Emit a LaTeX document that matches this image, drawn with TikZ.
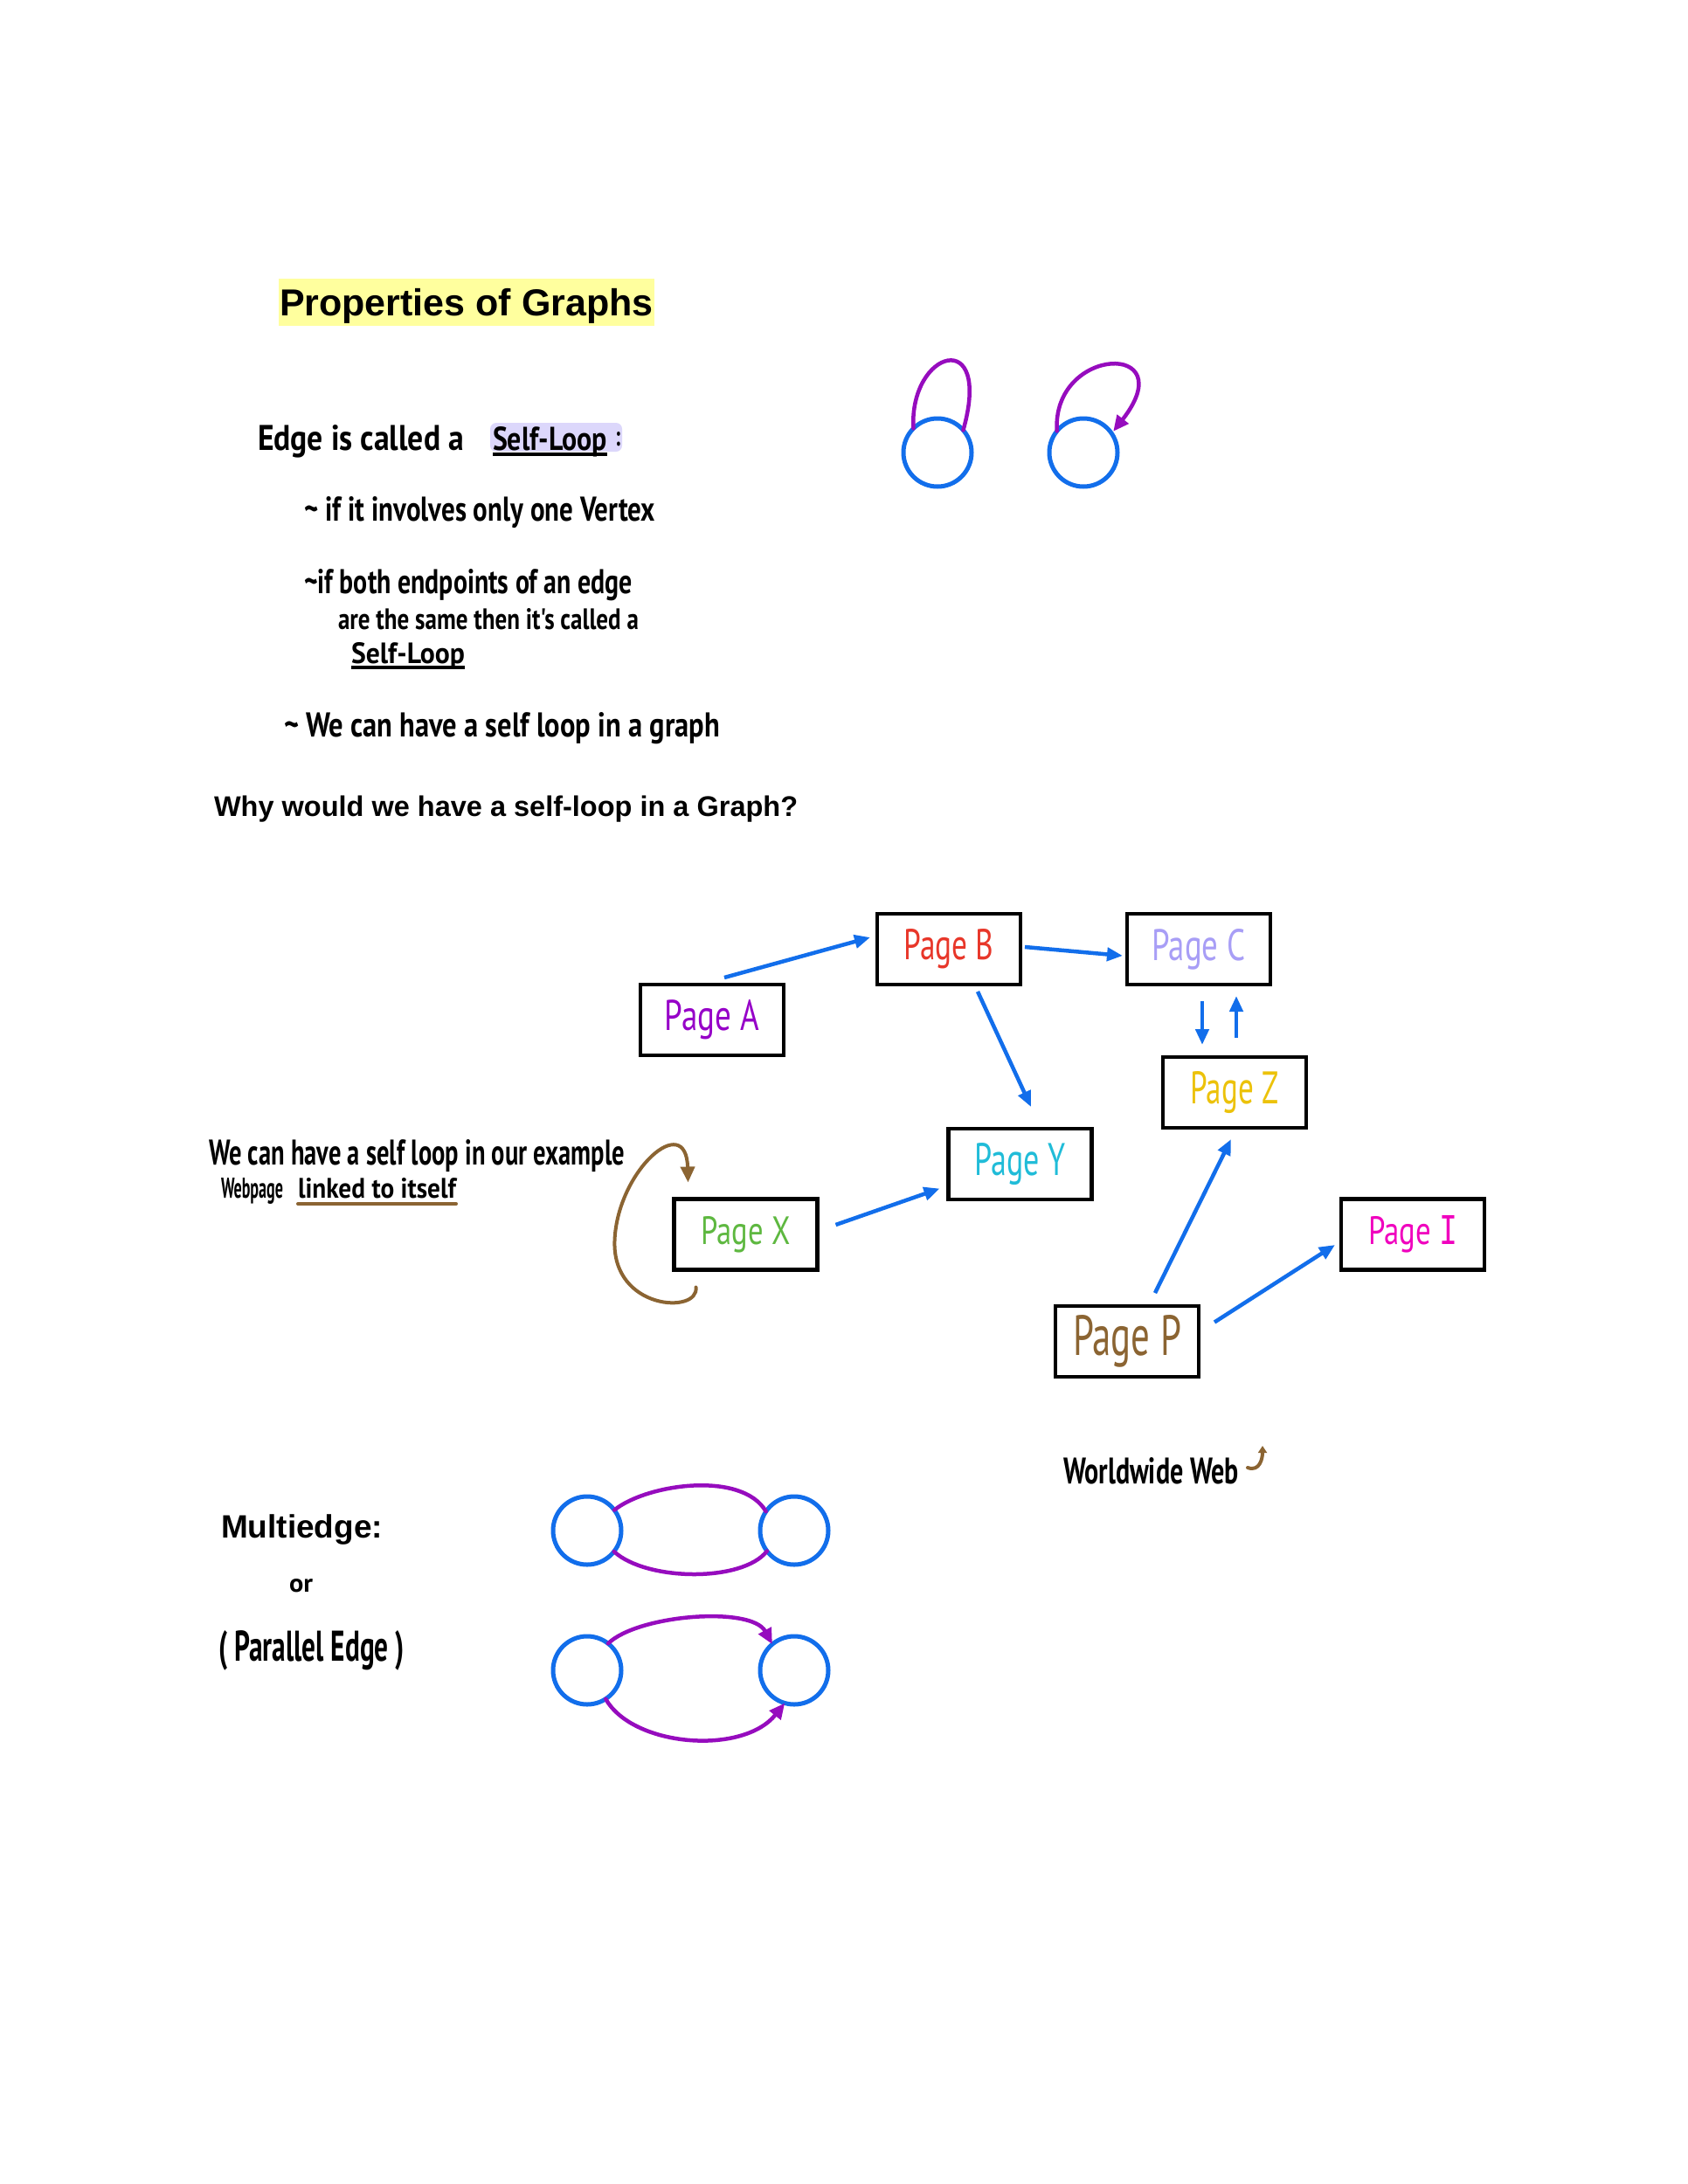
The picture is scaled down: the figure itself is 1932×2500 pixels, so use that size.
\documentclass[tikz,border=0pt]{standalone}
\usepackage{fontspec}
\setmainfont{Liberation Sans}
\newfontfamily\hwfont{PT Sans}
\newfontfamily\serifI{DejaVu Sans Mono}
\usetikzlibrary{arrows.meta,calc}
\definecolor{gblue}{RGB}{18,110,235}
\definecolor{gpurple}{RGB}{150,12,190}
\definecolor{gbrown}{RGB}{139,100,50}
\definecolor{hlyellow}{RGB}{255,255,158}
\definecolor{hllav}{RGB}{220,215,251}
\definecolor{cA}{RGB}{150,0,200}
\definecolor{cB}{RGB}{232,55,42}
\definecolor{cC}{RGB}{168,158,246}
\definecolor{cZ}{RGB}{236,194,10}
\definecolor{cY}{RGB}{32,188,216}
\definecolor{cX}{RGB}{94,184,64}
\definecolor{cI}{RGB}{240,0,190}
\definecolor{cP}{RGB}{139,100,50}
\newcommand{\hw}[3]{\resizebox{#1pt}{#2pt}{\hwfont\bfseries #3}}
\newcommand{\pl}[3]{\resizebox{#1pt}{#2pt}{\hwfont #3}}
\begin{document}
\begin{tikzpicture}[x=1pt,y=-1pt,
  every node/.style={inner sep=0pt, outer sep=0pt},
  hwtext/.style={anchor=base west},
  pagebox/.style={draw=black, line width=4.5pt, minimum width=164pt, minimum height=81pt},
  vertex/.style={circle, draw=gblue, line width=5pt, minimum size=78pt},
  link/.style={draw=gblue, line width=4.5pt, -{Triangle[length=18pt,width=15pt]}},
  edgep/.style={draw=gpurple, line width=4.5pt, line cap=round},
  ptip/.style={-{Triangle[length=18pt,width=16pt]}},
  loopb/.style={draw=gbrown, line width=4pt, line cap=round},
]
\fill[white] (0,0) rectangle (1932,2500);
\useasboundingbox (0,0) rectangle (1932,2500);

% title
\node[fill=hlyellow, anchor=north west, inner xsep=1pt, text height=42pt, text depth=12pt] (title) at (319,319)
  {\fontsize{43}{50}\selectfont\bfseries Properties of Graphs};

% self-loop explanation
\node[hwtext] (e1) at (295,515) {\hw{236}{29}{Edge is called a}};
\fill[hllav, rounded corners=7pt] (561,484) rectangle (712,517);
\node[hwtext] (sl1) at (564,515) {\hw{131}{27}{Self-Loop}};
\node[hwtext] (colon) at (704,510) {\hw{6}{16}{:}};
\draw[line width=3.5pt] ($(sl1.base west)+(0,5)$) -- ($(sl1.base east)+(0,5)$);

\node[hwtext] (b1) at (348,596) {\hw{402}{28}{\textasciitilde\ if it involves only one Vertex}};
\node[hwtext] (b2) at (348,679) {\hw{376}{28}{\textasciitilde if both endpoints of an edge}};
\node[hwtext] (b2b) at (387,720) {\hw{344}{24}{are the same then it's called a}};
\node[hwtext] (sl2) at (402,759) {\hw{130}{24}{Self-Loop}};
\draw[line width=3.5pt] ($(sl2.base west)+(0,5)$) -- ($(sl2.base east)+(0,5)$);
\node[hwtext] (b3) at (325,843) {\hw{499}{28}{\textasciitilde\ We can have a self loop in a graph}};

% top-right self loops
\node[vertex] (s1) at (1073,518) {};
\node[vertex] (s2) at (1240,518) {};
\draw[edgep] (s1.135) .. controls +(-5,-90) and +(34,-120) .. (s1.41);
\draw[edgep, ptip, shorten >=3pt] (s2.141) .. controls +(-6,-98) and +(83,-106) .. (s2.34);

% question
\node[anchor=base west] (q) at (245,934) {\fontsize{32.5}{38}\selectfont\bfseries Why would we have a self-loop in a Graph?};

% web graph
\node[pagebox] (A) at (815,1167.5) {\color{cA}\pl{108}{35}{Page A}};
\node[pagebox] (B) at (1086,1086.5) {\color{cB}\pl{103}{35}{Page B}};
\node[pagebox] (C) at (1372,1086.5) {\color{cC}\pl{107}{36}{Page C}};
\node[pagebox] (Z) at (1413,1250.5) {\color{cZ}\pl{101}{37}{Page Z}};
\node[pagebox] (Y) at (1167.5,1332.5) {\color{cY}\pl{104}{37}{Page Y}};
\node[pagebox] (X) at (853.5,1413) {\color{cX}\pl{102}{32}{Page X}};
\node[pagebox] (I) at (1617,1413) {\color{cI}\resizebox{102pt}{33pt}{\hwfont Page {\serifI I}}};
\node[pagebox] (P) at (1290,1535.5) {\color{cP}\pl{124}{46}{Page P}};

\draw[link] ($(A.north)+(14,-8)$) -- ($(B.west)+(-8,-13.5)$);
\draw[link] ($(B.east)+(5,-2.5)$) -- ($(C.west)+(-5,7.5)$);
\draw[link] ($(B.south)+(33,8)$) -- ($(Y.north)+(12.5,-25)$);
\draw[link] ($(C.south)+(4,19)$) -- ($(Z.north)+(-37,-14)$);
\draw[link] ($(Z.north)+(2,-22)$) -- ($(C.south)+(43,13)$);
\draw[link] ($(X.east)+(21,-11)$) -- ($(Y.west)+(-10,28)$);
\draw[link] ($(P.north)+(32,-15)$) -- ($(Z.south)+(-4,13)$);
\draw[link] ($(P.east)+(18,-22)$) -- ($(I.west)+(-7,12)$);

% self loop on Page X
\coordinate (xl) at ($(X.west)+(-68,7)$);
\draw[loopb, -{Triangle[length=18pt,width=16pt]}] ($(X.south west)+(25,20)$) .. controls +(4,31) and +(-3,80) .. (xl)
  .. controls +(3,-80) and +(-2,-83) .. ($(X.north west)+(16,-19)$);

\node[hwtext] (w1) at (239,1333) {\hw{476}{29}{We can have a self loop in our example}};
\node[hwtext] (w2) at (253,1371) {\hw{71}{23}{Webpage}};
\node[hwtext] (w3) at (341,1371) {\hw{181}{23}{linked to itself}};
\draw[gbrown, line width=4pt, line cap=round] ($(w3.base west)+(0,7)$) -- ($(w3.base east)+(0,7)$);

% worldwide web
\node[hwtext] (web) at (1217,1698) {\hw{201}{30}{Worldwide Web}};
\draw[loopb, line width=4pt, -{Triangle[length=8pt,width=10pt]}] ($(web.base east)+(10,-18)$) .. controls +(14,5) and +(0,14) .. ($(web.base east)+(27,-43)$);

% multiedge
\node[anchor=base west] (me) at (253,1760) {\fontsize{37}{44}\selectfont\bfseries Multiedge:};
\node[hwtext] (or) at (331,1822) {\hw{27}{15}{or}};
\node[hwtext] (par) at (250,1901) {\hw{213}{35}{( Parallel Edge )}};

\node[vertex] (m1) at (672,1752) {};
\node[vertex] (m2) at (909,1752) {};
\node[vertex] (m3) at (672,1912) {};
\node[vertex] (m4) at (909,1912) {};
\draw[edgep] (m1.37) .. controls +(37,-30) and +(-27,-47) .. (m2.146);
\draw[edgep] (m1.-38) .. controls +(37,34) and +(-28,36) .. (m2.217);
\draw[edgep, ptip] (m3.52) .. controls +(34,-33) and +(-24,-44) .. (m4.130);
\draw[edgep, ptip] (m3.-57) .. controls +(31,55) and +(-48,60) .. (m4.-106);
\end{tikzpicture}
\end{document}
